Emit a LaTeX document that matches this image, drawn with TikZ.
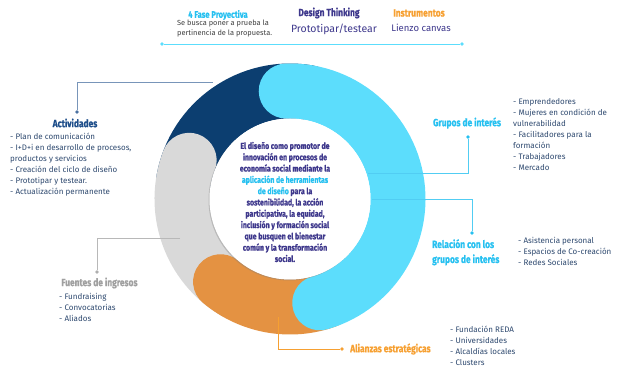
\documentclass[tikz,border=0pt]{standalone}
\usepackage{fontspec}
\setmainfont{Fira Sans}
\newfontfamily\condfont{Fira Sans}[FakeStretch=0.8,BoldFeatures={FakeBold=0.8}]
\usetikzlibrary{positioning,shadows}
\definecolor{ringnavy}{RGB}{12,62,112}
\definecolor{ringcyan}{RGB}{92,221,252}
\definecolor{ringgray}{RGB}{217,217,217}
\definecolor{ringorange}{RGB}{228,146,66}
\definecolor{txtpurple}{RGB}{62,56,140}
\definecolor{txtcyan}{RGB}{38,192,240}
\definecolor{txtorange}{RGB}{246,160,50}
\definecolor{txtnavy}{RGB}{30,78,138}
\definecolor{txtgray}{RGB}{160,160,160}
\definecolor{listblue}{RGB}{45,72,110}
\begin{document}
\begin{tikzpicture}[x=1pt,y=1pt,
            head/.style={font=\condfont\bfseries\fontsize{10.5}{15}\selectfont,inner sep=0pt},
            items/.style={font=\fontsize{8}{11}\selectfont,color=listblue,
                          align=left,inner sep=0pt,anchor=north west},
            seg/.style={line width=55pt,line cap=round},
            conn/.style={line width=0.9pt},
            dot/.style={circle,fill,inner sep=0pt,minimum size=3.6pt}]
            \useasboundingbox (0,0) rectangle (627,377);
            \coordinate (ctr) at (290,178);
            \draw[seg,ringnavy]   (ctr) ++(80:108)  arc[start angle=80,end angle=170,radius=108];
            \draw[seg,ringgray]   (ctr) ++(159:108) arc[start angle=159,end angle=240,radius=108];
            \draw[seg,ringorange] (ctr) ++(230:108) arc[start angle=230,end angle=290,radius=108];
            \draw[seg,ringcyan]   (ctr) ++(92:108)  arc[start angle=92,end angle=-74,radius=108];
            \node[circle,fill=white,minimum size=161pt,inner sep=0pt,
                  drop shadow={shadow xshift=-1pt,shadow yshift=-1pt,opacity=0.35}] (core) at (ctr) {};
            \node[font=\condfont\bfseries\fontsize{8.7}{11.3}\selectfont,color=txtpurple,
                  align=center,inner sep=0pt] (idea) at (285,175)
                 {El diseño como promotor de\\innovación en procesos de\\economía social mediante la\\
                  \textcolor{txtcyan}{aplicación de herramientas}\\\textcolor{txtcyan}{de diseño} para la\\
                  sostenibilidad, la acción\\participativa, la equidad,\\inclusión y formación social\\
                  que busquen el bienestar\\común y la transformación\\social.};
            \node[head,txtcyan,font=\condfont\bfseries\fontsize{9.5}{12}\selectfont] (phase) at (218,362) {4 Fase Proyectiva};
            \node[font=\fontsize{7.4}{9.8}\selectfont,color=darkgray,align=left,
                  inner sep=0pt,anchor=north west] (phasetxt) at (177,357)
                 {Se busca poner a prueba la\\pertinencia de la propuesta.};
            \node[head,txtpurple] (dt) at (329,364) {Design Thinking};
            \node[font=\fontsize{10.5}{12}\selectfont,txtpurple,inner sep=0pt] (proto) at (334,348) {Prototipar/testear};
            \node[head,txtorange] (inst) at (419,364) {Instrumentos};
            \node[font=\fontsize{9.5}{12}\selectfont,txtpurple,inner sep=0pt] (canvas) at (421,349) {Lienzo canvas};
            \node[dot,ringcyan] (lineL) at (162,333) {};
            \node[dot,ringcyan] (lineR) at (462,333) {};
            \draw[conn,ringcyan] (lineL) -- (lineR);
            \node[head,txtnavy] (act) at (75,254) {Actividades};
            \node[items] (actlist) at (10,244)
                 {- Plan de comunicación\\- I+D+i en desarrollo de procesos,\\productos y servicios\\
                  - Creación del ciclo de diseño\\- Prototipar y testear.\\- Actualización permanente};
            \node[head,txtcyan] (grp) at (467,254) {Grupos de interés};
            \node[items] (grplist) at (513,279)
                 {- Emprendedores\\- Mujeres en condición de\\vulnerabilidad\\- Facilitadores para la\\
                  formación\\- Trabajadores\\- Mercado};
            \node[head,txtcyan,align=left,anchor=north west] (rel) at (432,138) {Relación con los\\grupos de interés};
            \node[items] (rellist) at (518,140)
                 {- Asistencia personal\\- Espacios de Co-creación\\- Redes Sociales};
            \node[head,txtgray] (fue) at (99.5,94) {Fuentes de ingresos};
            \node[items] (fuelist) at (59,84) {- Fundraising\\- Convocatorias\\- Aliados};
            \node[head,txtorange,anchor=west] (ali) at (350,28) {Alianzas estratégicas};
            \node[items] (alilist) at (450,51)
                 {- Fundación REDA\\- Universidades\\- Alcaldías locales\\- Clusters};
            \coordinate (actin) at (213,295);
            \coordinate (grpin) at (368,204);
            \coordinate (relin) at (372,178);
            \coordinate (fuein) at (180,139);
            \coordinate (aliin) at (278,60);
            \node[dot,txtnavy!80] (actdot) at (77,265) {};
            \node[dot,txtcyan]    (grpdot) at (468,240) {};
            \node[dot,txtcyan]    (reldot) at (472,144) {};
            \node[dot,ringgray!80!black] (fuedot) at (97,105) {};
            \node[dot,txtorange]  (alidot) at (342,28) {};
            \draw[conn,txtnavy!60] (actin) -| (actdot);
            \draw[conn,txtcyan!80] (grpin) -| (grpdot);
            \draw[conn,txtcyan!80] (relin) -| (reldot);
            \draw[conn,ringgray!85!black] (fuein) -| (fuedot);
            \draw[conn,txtorange] (aliin) |- (alidot);
        \end{tikzpicture}
\end{document}
